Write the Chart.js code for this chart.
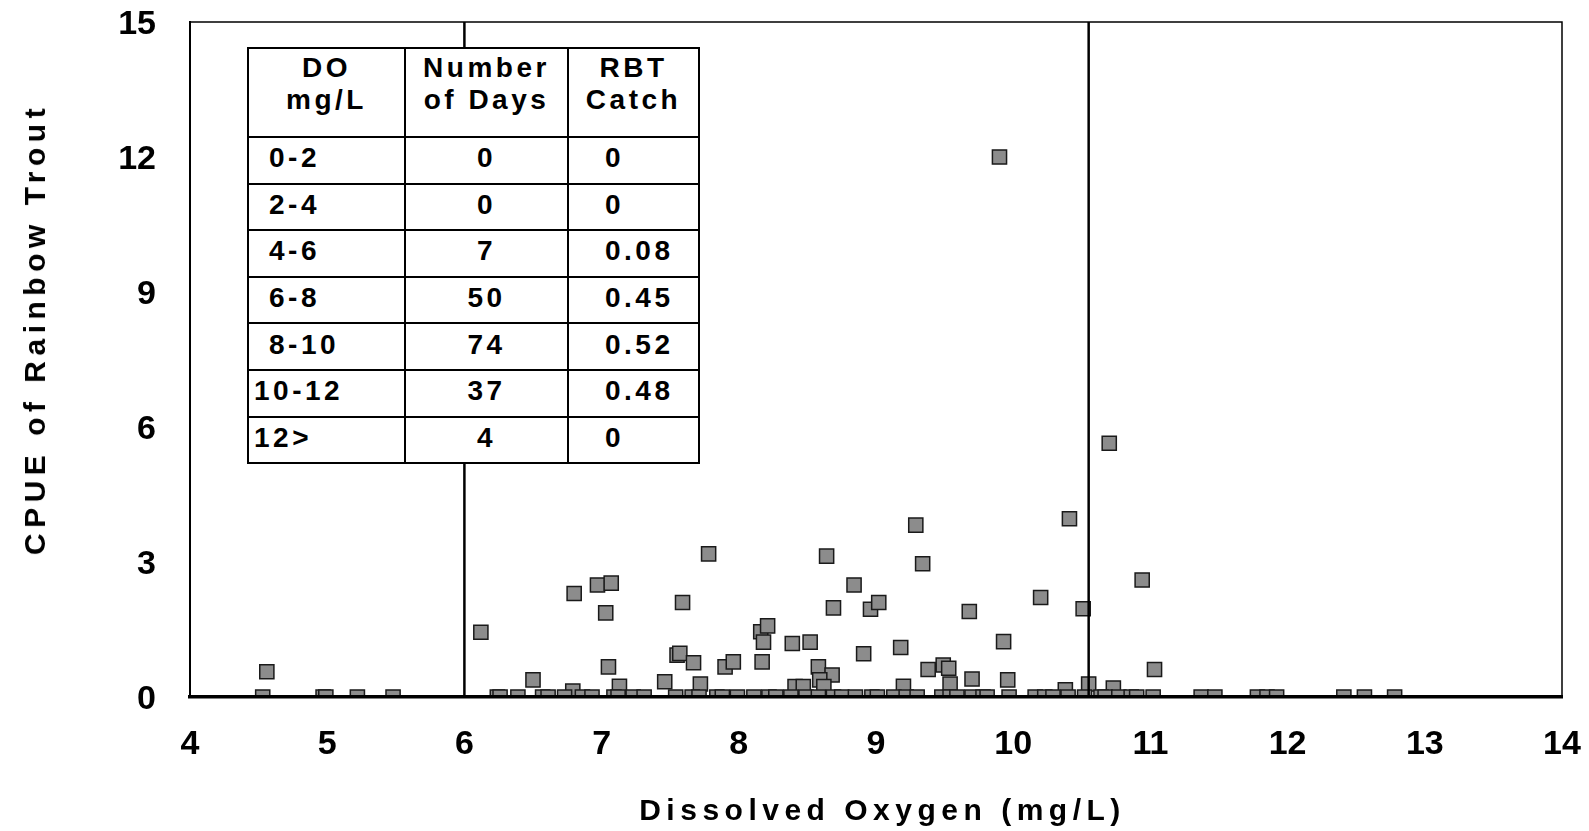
<!DOCTYPE html>
<html>
<head>
<meta charset="utf-8">
<script src="https://cdn.jsdelivr.net/npm/chart.js@4.4.1/dist/chart.umd.min.js"></script>
<style>
  body { margin: 0; background: #fff; }
  #wrap { position: relative; width: 1589px; height: 831px; font-family: "Liberation Sans", Arial, sans-serif; }
  #chart { position: absolute; left: 0; top: 0; }
  .axis-title { position: absolute; font-weight: bold; font-size: 30px; letter-spacing: 5.5px; color: #000; white-space: nowrap; }
  #xTitle { left: 0; width: 1589px; top: 793px; text-align: center; padding-left: 176px; box-sizing: border-box; }
  #yTitle { left: 35px; top: 329px; transform: translate(-50%, -50%) rotate(-90deg); }
  #doTable { position: absolute; left: 247px; top: 47px; border-collapse: collapse; background: #fff; }
  #doTable td { border: 2px solid #000; font-weight: bold; font-size: 28px; letter-spacing: 3.5px; padding: 0; height: 46.6px; line-height: 30px; padding-bottom: 4px; box-sizing: border-box; }
  #doTable tr.head td { height: 89px; text-align: center; line-height: 32px; padding-bottom: 18px; }
  #doTable td.c1 { width: 157px; padding-left: 20px; }
  #doTable td.c1.wide { padding-left: 5px; }
  #doTable td.c2 { width: 163px; text-align: center; }
  #doTable td.c3 { width: 131px; padding-left: 36px; }
</style>
</head>
<body>
<div id="wrap">
  <canvas id="chart" width="1589" height="831"></canvas>
  <div class="axis-title" id="xTitle">Dissolved Oxygen (mg/L)</div>
  <div class="axis-title" id="yTitle">CPUE of Rainbow Trout</div>
  <table id="doTable"></table>
</div>
<script>
// daily samples with a catch (DO mg/L, CPUE)
const doWithCatch = [4.56, 6.12, 6.50, 6.80, 6.79, 6.97, 7.07, 7.03, 7.05, 7.13, 7.46, 7.55, 7.57, 7.59, 7.67, 7.72, 7.78, 7.90, 7.96, 8.16,
  8.21, 8.18, 8.17, 8.39, 8.52, 8.41, 8.47, 8.58, 8.68, 8.59, 8.62, 8.64, 8.69, 8.84, 8.91, 8.96, 9.02, 9.18, 9.20, 9.29,
  9.34, 9.38, 9.49, 9.53, 9.54, 9.68, 9.70, 9.90, 9.93, 9.96, 10.20, 10.38, 10.41, 10.51, 10.55, 10.70, 10.73, 10.94, 11.03];
const cpueWithCatch = [0.56, 1.44, 0.38, 2.30, 0.13, 2.49, 2.53, 1.87, 0.67, 0.24, 0.34, 0.93, 0.97, 2.10, 0.76, 0.29, 3.18, 0.67, 0.78, 1.45,
  1.58, 1.22, 0.78, 1.19, 1.22, 0.23, 0.23, 0.67, 0.49, 0.38, 0.23, 3.13, 1.98, 2.49, 0.96, 1.95, 2.10, 1.10, 0.24, 3.82,
  2.96, 0.61, 0.71, 0.64, 0.29, 1.90, 0.40, 12.0, 1.23, 0.38, 2.21, 0.16, 3.96, 1.96, 0.29, 5.64, 0.20, 2.60, 0.61];

// days with no rainbow trout caught (CPUE = 0)
const doNoCatch = [4.53, 4.97, 4.99, 5.22, 5.48, 6.24, 6.26, 6.39, 6.57, 6.61, 6.73, 6.86, 6.93, 7.09, 7.12, 7.23, 7.31, 7.54, 7.66, 7.71,
  7.84, 7.88, 7.99, 8.11, 8.22, 8.27, 8.38, 8.49, 8.58, 8.69, 8.75, 8.85, 8.97, 9.01, 9.13, 9.22, 9.30, 9.48, 9.54, 9.59,
  9.70, 9.78, 9.81, 9.97, 10.16, 10.23, 10.29, 10.40, 10.52, 10.64, 10.67, 10.77, 10.86, 10.90, 11.02, 11.37, 11.47, 11.78, 11.85, 11.92,
  12.41, 12.56, 12.78];

const refLines = [6, 10.55];

// inset table
const doRanges = ['0-2', '2-4', '4-6', '6-8', '8-10', '10-12', '12>'];
const numberOfDays = [0, 0, 7, 50, 74, 37, 4];
const rbtCatch = ['0', '0', '0.08', '0.45', '0.52', '0.48', '0'];

function buildTable() {
    const table = document.getElementById('doTable');
    let html = '<tr class="head"><td class="c1" style="padding-left:0">DO<br>mg/L</td><td class="c2">Number<br>of Days</td><td class="c2" style="width:131px">RBT<br>Catch</td></tr>';
    doRanges.forEach((r, i) => {
        const wide = r.length > 4 || r === '12>' ? ' wide' : '';
        html += `<tr><td class="c1${wide}">${r}</td><td class="c2">${numberOfDays[i]}</td><td class="c3">${rbtCatch[i]}</td></tr>`;
    });
    table.innerHTML = html;
}

// top and right frame of the plot area
const frame = {
    id: 'frame',
    afterDatasetsDraw(chart) {
        const { ctx, chartArea: a } = chart;
        ctx.save();
        ctx.strokeStyle = '#000';
        ctx.lineWidth = 1.5;
        ctx.beginPath();
        ctx.moveTo(a.left, a.top);
        ctx.lineTo(a.right, a.top);
        ctx.lineTo(a.right, a.bottom);
        ctx.stroke();
        ctx.restore();
    }
};

const tickFont = { family: "'Liberation Sans', Arial, sans-serif", size: 34, weight: 'bold' };

function renderChart() {
    const ctx = document.getElementById('chart').getContext('2d');
    const datasets = refLines.map(x => ({
        data: [{ x: x, y: 0 }, { x: x, y: 15 }],
        showLine: true,
        borderColor: '#000',
        borderWidth: 2.5,
        pointRadius: 0,
        order: 0
    }));
    const pointStyle = {
        pointStyle: 'rect',
        pointRadius: 10,
        backgroundColor: '#8c8c8c',
        borderColor: '#1a1a1a',
        borderWidth: 1.5,
        clip: { left: 0, top: 0, right: 0, bottom: -2 },
        order: 1
    };
    datasets.push({ ...pointStyle, data: doNoCatch.map(x => ({ x: x, y: 0 })) });
    datasets.push({ ...pointStyle, data: doWithCatch.map((x, i) => ({ x: x, y: cpueWithCatch[i] })) });

    new Chart(ctx, {
        type: 'scatter',
        data: { datasets: datasets },
        options: {
            responsive: false,
            devicePixelRatio: 1,
            animation: false,
            layout: { autoPadding: false, padding: { top: 22, right: 27, left: 0, bottom: 0 } },
            plugins: { legend: { display: false }, tooltip: { enabled: false } },
            scales: {
                x: {
                    min: 4, max: 14,
                    grid: { display: false, drawTicks: false, tickLength: 0 },
                    border: { display: true, color: '#000', width: 3.5 },
                    ticks: { stepSize: 1, color: '#000', font: tickFont, padding: 27, maxRotation: 0 },
                    afterFit: s => { s.height = 134; s.paddingLeft = 0; s.paddingRight = 0; }
                },
                y: {
                    min: 0, max: 15,
                    grid: { display: false, drawTicks: false, tickLength: 0 },
                    border: { display: true, color: '#000', width: 2 },
                    ticks: { stepSize: 3, color: '#000', font: tickFont, padding: 34, labelOffset: 3 },
                    afterFit: s => { s.width = 190; s.paddingTop = 0; s.paddingBottom = 0; }
                }
            }
        },
        plugins: [frame]
    });
}

buildTable();
renderChart();
</script>
</body>
</html>
